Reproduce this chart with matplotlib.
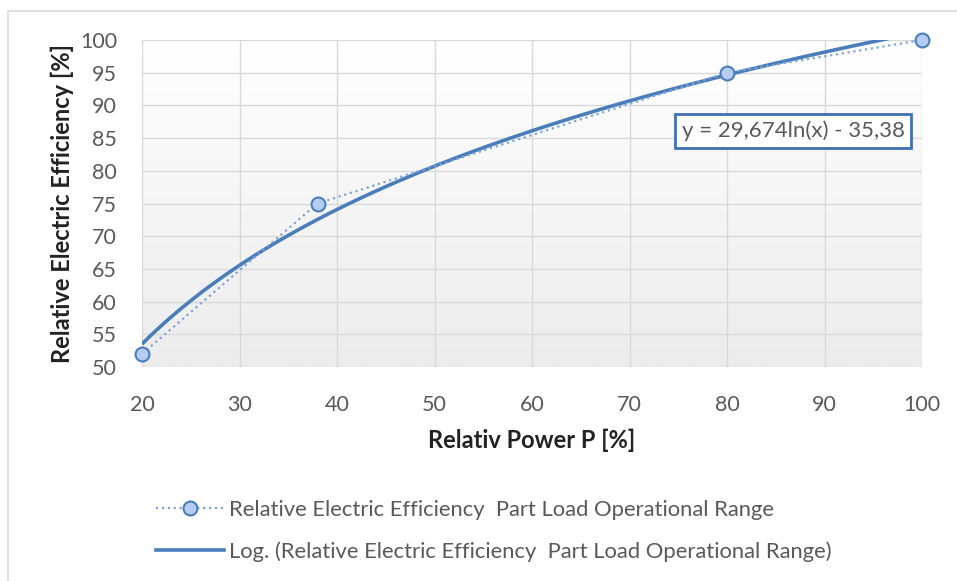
import matplotlib.pyplot as plt
import numpy as np
from matplotlib.patches import Rectangle
from matplotlib.lines import Line2D

# Data
power = np.array([20, 38, 80, 100])          # Relativ Power P [%]
efficiency = np.array([52, 75, 95, 100])      # Relative Electric Efficiency [%]
eq_label = 'y = 29,674ln(x) - 35,38'
series_label = 'Relative Electric Efficiency  Part Load Operational Range'
trend_label = 'Log. (Relative Electric Efficiency  Part Load Operational Range)'

plt.rcParams['font.family'] = ['Lato', 'DejaVu Sans']

# log trendline: least squares on ln(x), like Excel does
slope, intercept = np.polyfit(np.log(power), efficiency, 1)
xs = np.linspace(power.min(), power.max(), 300)
ys = slope * np.log(xs) + intercept

fig = plt.figure(figsize=(9.57, 5.81), dpi=100)
fig.patches.append(Rectangle((8 / 957, -0.1), 1.2, 1 - 11 / 581 + 0.1,
                             transform=fig.transFigure, fill=False,
                             edgecolor='#d9d9d9', lw=1.2))

ax = fig.add_axes([142 / 957, 1 - 367 / 581, 780 / 957, 327 / 581])

# gradient plot area
grad = np.linspace(0, 1, 256).reshape(-1, 1)
ax.imshow(grad, extent=[0, 1, 0, 1], transform=ax.transAxes, aspect='auto',
          cmap=plt.matplotlib.colors.LinearSegmentedColormap.from_list(
              'g', ['#ffffff', '#ececec']), zorder=0)

ax.set_xlim(20, 100)
ax.set_ylim(50, 100)
ax.set_xticks(np.arange(20, 101, 10))
ax.set_yticks(np.arange(50, 101, 5))
ax.grid(True, color='#d9d9d9', lw=1, zorder=1)
for s in ax.spines.values():
    s.set_visible(False)
ax.tick_params(length=0, labelsize=15.5, colors='#595959')
ax.tick_params(axis='y', pad=18)
ax.tick_params(axis='x', pad=20)

ax.plot(xs, ys, color='#4a7ebb', lw=2.6, zorder=3, solid_capstyle='butt')
ax.plot(power, efficiency, linestyle=':', color='#7fa3d8', lw=1.6,
        marker='o', markersize=10, markerfacecolor='#b4cdf0',
        markeredgecolor='#4a7ebb', markeredgewidth=1.5, zorder=4, clip_on=False)

ax.set_xlabel('Relativ Power P [%]', fontsize=17, fontweight='bold',
              color='#222222', labelpad=10)
ax.set_ylabel('Relative Electric Efficiency [%]', fontsize=17,
              fontweight='bold', color='#222222', labelpad=4)

ax.text(793 / 957, 1 - 131 / 581, eq_label, transform=fig.transFigure,
        ha='center', va='center', fontsize=16, color='#595959', zorder=5,
        bbox=dict(boxstyle='square,pad=0.3', fc='white', ec='#3f6fb5', lw=2))

handles = [
    Line2D([], [], linestyle=':', color='#7fa3d8', lw=1.6, marker='o',
           markersize=10, markerfacecolor='#b4cdf0', markeredgecolor='#4a7ebb',
           markeredgewidth=1.5),
    Line2D([], [], color='#4a7ebb', lw=2.6),
]
fig.legend(handles, [series_label, trend_label], loc='upper left',
           bbox_to_anchor=(136 / 957, 1 - 480 / 581), frameon=False,
           fontsize=15.8, labelcolor='#595959', handlelength=3.1,
           handletextpad=0.25, labelspacing=0.98)

fig.savefig('out.png', dpi=100)
